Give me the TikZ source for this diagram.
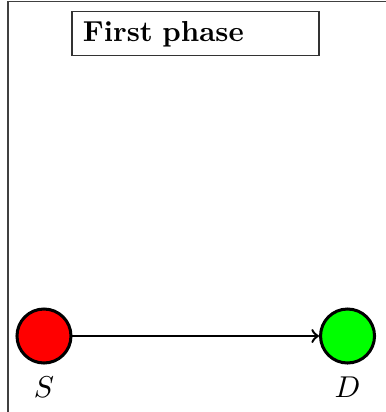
\documentclass[tikz,border=0pt]{standalone}
\usetikzlibrary{positioning}
\tikzset{
  station/.style={circle, draw=black, line width=1.1pt, minimum size=0.69cm, inner sep=0pt},
  phasebox/.style={draw=black!80, text width=2.876cm, align=left, inner xsep=0.14cm, minimum height=0.562cm, font=\fontsize{10.5pt}{12pt}\selectfont\bfseries}
}

\begin{document}
\begin{tikzpicture}[font=\fontsize{10.5pt}{12pt}\selectfont]
    \useasboundingbox (0,0) rectangle (4.93,5.265);

    % Frame edges
    \coordinate (fbl) at (0.102,0);
    \coordinate (ftl) at (0.102,5.246);
    \coordinate (ftr) at (4.95,5.246);
    \draw[black!75] (fbl) -- (ftl) -- (ftr);

    % Phase title
    \node[phasebox] (title) at (2.498,4.833) {First phase};

    % Source and destination
    \node[station, fill=red, label={[yshift=-1pt]below:$S$}] (S) at (0.562,0.971) {};
    \node[station, fill=green, label={[yshift=-1pt]below:$D$}] (D) at (4.441,0.971) {};

    % Transmission
    \draw[line width=0.9pt, ->] (S) -- (D);

\end{tikzpicture}
\end{document}
